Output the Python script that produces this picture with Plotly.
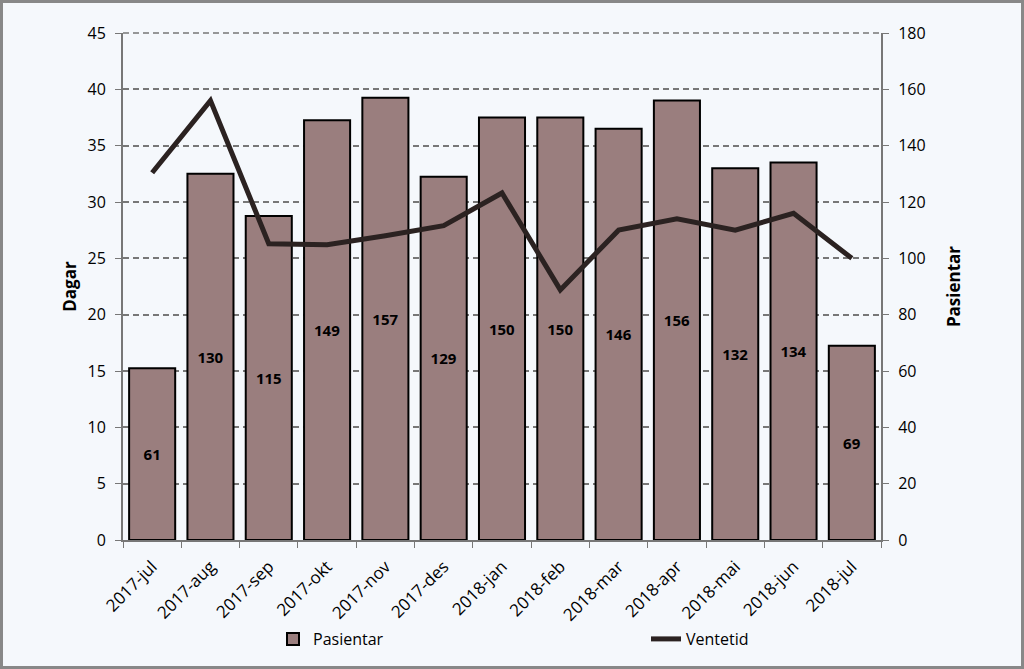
import plotly.graph_objects as go

months = ["2017-jul", "2017-aug", "2017-sep", "2017-okt", "2017-nov", "2017-des",
          "2018-jan", "2018-feb", "2018-mar", "2018-apr", "2018-mai", "2018-jun", "2018-jul"]
pasientar = [61, 130, 115, 149, 157, 129, 150, 150, 146, 156, 132, 134, 69]
ventetid = [32.6, 39.0, 26.3, 26.2, 27.0, 27.9, 30.8, 22.2, 27.5, 28.5, 27.5, 29.0, 25.0]

font = "Open Sans, Noto Sans, sans-serif"
W, H = 1024, 669
L, R, T, B = 123, 881, 33, 540
pw, ph = R - L, B - T
grid = "#777777"

fig = go.Figure()
fig.add_trace(go.Bar(
    x=months, y=pasientar, name="Pasientar", yaxis="y", legend="legend",
    marker=dict(color="#9A7E7E", line=dict(color="#000000", width=2)),
    width=0.79,
    text=[str(v) for v in pasientar], textposition="inside",
    insidetextanchor="middle",
    textfont=dict(family=font, size=15, color="#000000", weight="bold"),
))
fig.add_trace(go.Scatter(
    x=months, y=ventetid, name="Ventetid", yaxis="y2", mode="lines", legend="legend2",
    line=dict(color="#2B2221", width=5),
))

legfont = dict(size=16, family=font, color="#000000")
fig.update_layout(
    width=W, height=H,
    margin=dict(l=L, r=W - R, t=T, b=H - B, autoexpand=False),
    paper_bgcolor="#F5F8FC", plot_bgcolor="#F5F8FC",
    font=dict(family=font, size=16, color="#000000"),
    showlegend=True,
    legend=dict(orientation="h", x=(273 - L) / pw, xanchor="left",
                y=(B - 622) / ph, yanchor="top",
                font=legfont, bgcolor="rgba(0,0,0,0)"),
    legend2=dict(orientation="h", x=(646 - L) / pw, xanchor="left",
                 y=(B - 622) / ph, yanchor="top",
                 font=legfont, bgcolor="rgba(0,0,0,0)"),
    xaxis=dict(
        type="category", tickangle=-45, showgrid=False,
        showline=True, linecolor=grid, linewidth=2,
        ticks="outside", tickson="boundaries", ticklen=6, tickcolor=grid,
        ticklabelstandoff=8,
        tickfont=dict(size=17, family=font),
    ),
    yaxis=dict(
        side="right", range=[0, 180], dtick=20,
        showgrid=True, gridcolor=grid, griddash="6px,4px", gridwidth=1.5,
        showline=True, linecolor=grid, linewidth=2,
        ticks="outside", ticklen=6, tickcolor=grid, ticklabelstandoff=6,
        tickfont=dict(size=16, family=font),
        title=dict(text="<b>Pasientar</b>", font=dict(size=17, family=font), standoff=23),
        zeroline=False,
    ),
    yaxis2=dict(
        side="left", overlaying="y", range=[0, 45], dtick=5,
        showgrid=False,
        showline=True, linecolor=grid, linewidth=2,
        ticks="outside", ticklen=6, tickcolor=grid, ticklabelstandoff=6,
        tickfont=dict(size=16, family=font),
        title=dict(text="<b>Dagar</b>", font=dict(size=17, family=font), standoff=7),
        zeroline=False,
    ),
)

# top gridline at axis maximum
fig.add_shape(type="line", xref="paper", yref="paper", x0=0, x1=1, y0=1, y1=1,
              line=dict(color=grid, width=1.5, dash="6px,4px"), layer="below")
# outer frame
fig.add_shape(type="rect", xref="paper", yref="paper",
              x0=(1.5 - L) / pw, x1=(1022.5 - L) / pw,
              y0=(B - 667.5) / ph, y1=(B - 1.5) / ph,
              line=dict(color="#888888", width=3), fillcolor="rgba(0,0,0,0)", layer="below")

fig.write_html("out.html", config={"displayModeBar": False},
               post_script="document.body.style.margin='0';document.body.style.overflow='hidden';")
